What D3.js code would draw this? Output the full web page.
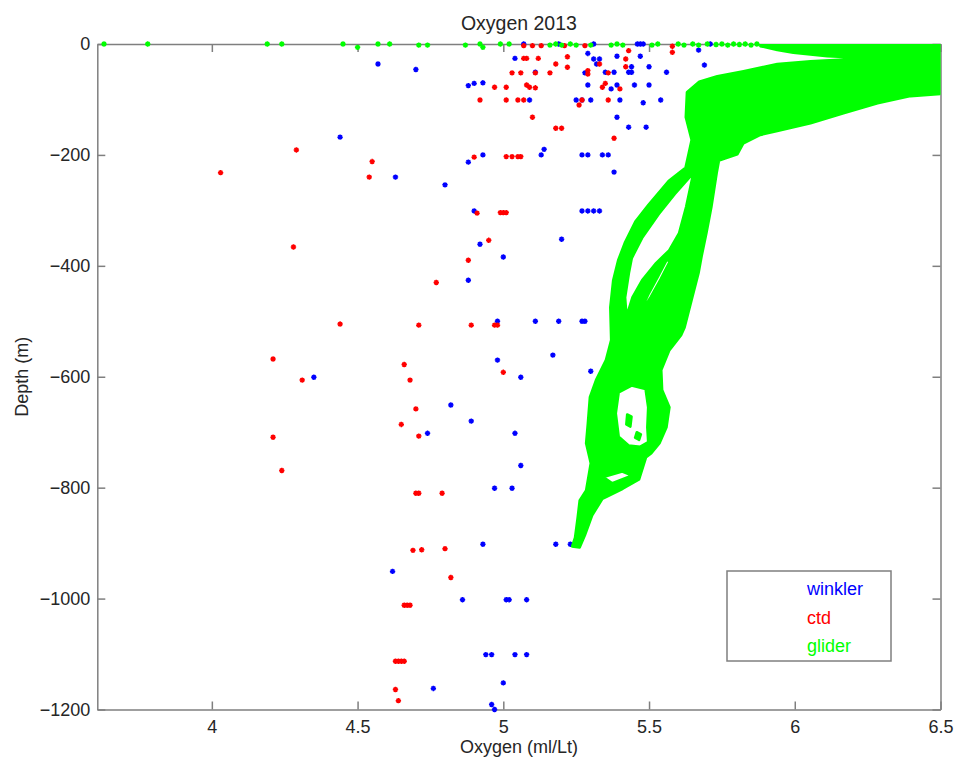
<!DOCTYPE html>
<html lang="en">
<head>
<meta charset="UTF-8">
<title>Oxygen 2013</title>
<script src="https://d3js.org/d3.v7.min.js"></script>
<style>
  body { margin: 0; background: #fff; }
  svg { display: block; font-family: "Liberation Sans", Arial, Helvetica, sans-serif; }
  .axis .domain, .axis line { stroke: #7f7f7f; stroke-width: 1.5; }
  .axis text { fill: #262626; font-size: 18px; }
</style>
</head>
<body>
<svg id="chart"></svg>
<script>
// values: [oxygen (ml/Lt), depth (m)]
const winkler = [
  [5.07,0],[5.19,0],[5.31,0],[5.46,0],[5.47,0],[5.48,0],[5.71,0],
  [5.67,-11],[5.29,-17],[5.39,-22],[5.47,-22],
  [5.04,-26],[5.31,-27],[5.33,-27],
  [4.57,-36],[5.32,-36],[5.69,-38],
  [5.44,-41],[5.50,-41],[4.70,-46],
  [5.11,-51],[5.28,-52],[5.35,-51],[5.38,-51],[5.43,-51],[5.44,-51],[5.56,-51],
  [4.88,-75],[4.90,-71],[4.93,-70],
  [5.29,-74],[5.37,-81],[5.39,-74],[5.45,-74],[5.50,-74],
  [5.09,-101],[5.25,-101],[5.27,-101],[5.30,-101],[5.40,-101],[5.48,-106],[5.54,-101],
  [5.39,-132],[5.43,-150],[5.49,-150],[4.44,-168],
  [5.14,-190],[5.13,-200],[4.88,-213],[4.93,-200],
  [5.27,-200],[5.29,-200],[5.34,-200],[5.36,-200],
  [4.63,-240],[5.38,-231],[4.80,-254],
  [4.90,-301],[5.27,-301],[5.29,-301],[5.31,-301],[5.33,-301],
  [4.92,-361],[5.20,-352],[5.00,-384],[4.88,-426],
  [4.98,-500],[5.11,-500],[5.19,-500],[5.27,-500],[5.28,-500],
  [5.17,-561],[4.98,-570],[5.30,-590],[4.35,-601],[5.06,-601],
  [4.82,-651],[4.89,-680],[4.74,-702],[5.04,-702],[5.06,-760],
  [4.97,-801],[5.03,-801],
  [4.93,-902],[5.18,-902],[5.23,-902],[4.62,-951],
  [4.86,-1002],[5.01,-1002],[5.02,-1002],[5.08,-1002],
  [4.94,-1101],[4.96,-1101],[5.04,-1101],[5.08,-1101],
  [4.76,-1162],[5.00,-1152],[4.96,-1191],[4.97,-1200]
];

const ctd = [
  [5.07,-3],[5.10,-3],[5.13,-3],[5.21,-3],[5.28,-3],[5.58,-4],
  [5.43,-12],[5.58,-15],[5.22,-23],[5.42,-27],
  [5.07,-26],[5.08,-26],[5.12,-26],
  [5.18,-36],[5.33,-36],[5.22,-42],[5.42,-41],
  [5.03,-52],[5.06,-52],[5.11,-52],[5.16,-52],[5.29,-48],[5.29,-54],[5.36,-52],
  [4.97,-78],[5.01,-78],[5.08,-74],[5.09,-78],[5.11,-79],
  [5.34,-78],[5.35,-71],[5.40,-81],
  [4.92,-101],[5.01,-101],[5.05,-101],[5.07,-101],[5.27,-101],[5.36,-101],[5.26,-110],
  [5.10,-132],[5.18,-152],[5.20,-152],[5.38,-170],
  [4.29,-191],[4.55,-212],[4.54,-240],[4.03,-232],
  [4.90,-204],[5.01,-203],[5.03,-203],[5.05,-203],[5.06,-203],
  [4.91,-305],[4.99,-304],[5.00,-304],[5.01,-304],
  [4.28,-366],[4.95,-354],[4.88,-390],[4.77,-430],
  [4.44,-505],[4.71,-507],[4.89,-507],[4.97,-507],[4.98,-507],
  [4.21,-568],[4.66,-578],[5.00,-592],[4.31,-606],[4.68,-606],
  [4.70,-658],[4.65,-686],[4.21,-709],[4.71,-707],[4.24,-769],
  [4.70,-810],[4.71,-810],[4.79,-810],
  [4.69,-913],[4.72,-912],[4.80,-910],[4.82,-962],
  [4.66,-1012],[4.67,-1012],[4.68,-1012],
  [4.63,-1113],[4.64,-1113],[4.65,-1113],[4.66,-1113],
  [4.63,-1164],[4.64,-1184]
];

// glider readings at the surface
const gliderSurface = [
  [3.63,0],[3.78,0],[4.19,0],[4.24,0],[4.45,0],[4.50,-6],[4.57,0],[4.61,0],
  [4.71,-2],[4.74,-2],[4.87,-2],[4.92,0],[4.93,-6],[4.99,0],[5.02,0],
  [5.16,-2],[5.18,0],[5.20,-2],[5.23,0],[5.25,-2],[5.30,-2],[5.37,-2],
  [5.39,0],[5.41,-2],[5.51,-2],[5.53,0],[5.60,0],[5.62,-2],[5.65,0],
  [5.67,-2],[5.70,0],[5.73,-1],[5.75,0],[5.77,-2],[5.79,0],[5.81,-1],
  [5.83,0],[5.85,-2],[5.87,0]
];

// outline of the dense cloud of glider profiles
const gliderCloud = [
  [5.882,0],[6.5,0],[6.5,-90],[6.397,-94],[6.284,-107],[6.167,-125],
  [6.054,-143],[5.940,-157],[5.882,-164],[5.824,-179],[5.803,-199],
  [5.740,-210],[5.732,-233],[5.714,-294],[5.697,-341],[5.680,-384],
  [5.670,-413],[5.646,-462],[5.622,-511],[5.610,-525],[5.570,-552],
  [5.542,-588],[5.545,-624],[5.570,-655],[5.560,-691],[5.536,-720],
  [5.508,-738],[5.490,-745],[5.466,-785],[5.410,-802],[5.340,-820],
  [5.305,-850],[5.280,-886],[5.262,-908],[5.236,-906],[5.246,-890],
  [5.255,-854],[5.262,-823],[5.284,-805],[5.300,-756],[5.284,-720],
  [5.290,-684],[5.297,-637],[5.318,-606],[5.352,-570],[5.370,-534],
  [5.367,-475],[5.377,-426],[5.394,-390],[5.418,-357],[5.453,-320],
  [5.498,-290],[5.567,-247],[5.625,-223],[5.636,-197],[5.646,-173],
  [5.626,-132],[5.630,-87],[5.672,-68],[5.734,-58],[5.824,-49],
  [5.940,-36],[6.054,-31],[6.167,-28],[6.339,-27],[6.225,-25],
  [6.112,-22],[5.995,-16],[5.940,-11],[5.882,-4]
];

// empty gaps inside the cloud, and small filled patches in the deep loop
const gliderGaps = [
  [[5.648,-235],[5.588,-271],[5.533,-307],[5.476,-350],[5.441,-386],[5.431,-413],
   [5.418,-457],[5.422,-485],[5.428,-482],[5.443,-457],[5.476,-426],[5.524,-395],
   [5.569,-372],[5.603,-341],[5.627,-294],[5.648,-242]],
  [[5.562,-388],[5.530,-420],[5.497,-452],[5.465,-488],[5.472,-484],[5.506,-456],
   [5.540,-424],[5.570,-393]],
  [[5.440,-616],[5.488,-622],[5.497,-655],[5.494,-691],[5.497,-718],[5.470,-726],
   [5.430,-724],[5.396,-708],[5.386,-666],[5.396,-628]],
  [[5.425,-668],[5.440,-672],[5.436,-690],[5.422,-686]],
  [[5.458,-700],[5.472,-704],[5.466,-714],[5.452,-710]],
  [[5.343,-781],[5.408,-771],[5.442,-778],[5.374,-792]]
];

const oxTicks = [4, 4.5, 5, 5.5, 6, 6.5];
const depthTicks = [0, -200, -400, -600, -800, -1000, -1200];
const series = ["winkler", "ctd", "glider"];
const colors = ["#0000ff", "#ff0000", "#00ff00"];

const W = 955, H = 766;
const margin = { top: 44, right: 14.5, bottom: 56.5, left: 97.3 };
const width = W - margin.left - margin.right;
const height = H - margin.top - margin.bottom;

const svg = d3.select("#chart").attr("width", W).attr("height", H);
const g = svg.append("g").attr("transform", `translate(${margin.left},${margin.top})`);

const x = d3.scaleLinear().domain([3.607, 6.5]).range([0, width]);
const y = d3.scaleLinear().domain([-1200, 0]).range([height, 0]);

svg.append("defs").append("clipPath").attr("id", "plot")
  .append("rect").attr("width", width).attr("height", height);

// axes first, data drawn over them; ticks point inward on all four sides
g.append("g").attr("class", "axis")
  .attr("transform", `translate(0,${height})`)
  .call(d3.axisBottom(x).tickValues(oxTicks).tickSizeInner(-8).tickSizeOuter(0).tickPadding(11).tickFormat(d3.format("")));
g.append("g").attr("class", "axis")
  .call(d3.axisTop(x).tickValues(oxTicks).tickSizeInner(-8).tickSizeOuter(0).tickFormat(""));
g.append("g").attr("class", "axis")
  .call(d3.axisLeft(y).tickValues(depthTicks).tickSizeInner(-8).tickSizeOuter(0).tickPadding(7).tickFormat(d3.format("")));
g.append("g").attr("class", "axis")
  .attr("transform", `translate(${width},0)`)
  .call(d3.axisRight(y).tickValues(depthTicks).tickSizeInner(-8).tickSizeOuter(0).tickFormat(""));

g.selectAll(".axis text").attr("font-family", null);

// MATLAB style '*' marker
const star = "M-2.7,0H2.7M0,-2.7V2.7M-1.9,-1.9L1.9,1.9M-1.9,1.9L1.9,-1.9";

function drawMarkers(data, color) {
  g.append("g").selectAll("path")
    .data(data)
    .enter().append("path")
    .attr("transform", d => `translate(${x(d[0])},${y(d[1])})`)
    .attr("d", star)
    .attr("stroke", color)
    .attr("stroke-width", 1.5)
    .attr("fill", "none");
}

drawMarkers(winkler, colors[0]);
drawMarkers(ctd, colors[1]);

// glider cloud with its gaps, even-odd fill
const ring = d3.line().x(d => x(d[0])).y(d => y(d[1])).curve(d3.curveLinearClosed);
g.append("path")
  .attr("clip-path", "url(#plot)")
  .attr("d", [gliderCloud].concat(gliderGaps).map(ring).join(""))
  .attr("fill", colors[2])
  .attr("fill-rule", "evenodd")
  .attr("stroke", colors[2])
  .attr("stroke-width", 2.5)
  .attr("stroke-linejoin", "round");

drawMarkers(gliderSurface, colors[2]);

// titles
svg.append("text")
  .attr("x", margin.left + width / 2).attr("y", 30)
  .attr("text-anchor", "middle").attr("fill", "#262626").style("font-size", "19.5px")
  .text("Oxygen 2013");
svg.append("text")
  .attr("x", margin.left + width / 2).attr("y", margin.top + height + 43)
  .attr("text-anchor", "middle").attr("fill", "#262626").style("font-size", "18px")
  .text("Oxygen (ml/Lt)");
svg.append("text")
  .attr("transform", `translate(28,${margin.top + height / 2}) rotate(-90)`)
  .attr("text-anchor", "middle").attr("fill", "#262626").style("font-size", "18px")
  .text("Depth (m)");

// legend
const legend = g.append("g").attr("transform", `translate(${width - 213.5},${height - 138.5})`);
legend.append("rect")
  .attr("width", 164).attr("height", 90)
  .attr("fill", "#fff").attr("stroke", "#7f7f7f").attr("stroke-width", 1.5);
legend.selectAll("text")
  .data(series)
  .enter().append("text")
  .attr("x", 80)
  .attr("y", (d, i) => 24 + i * 28.5)
  .attr("fill", (d, i) => colors[i])
  .style("font-size", "18px")
  .text(d => d);
</script>
</body>
</html>
